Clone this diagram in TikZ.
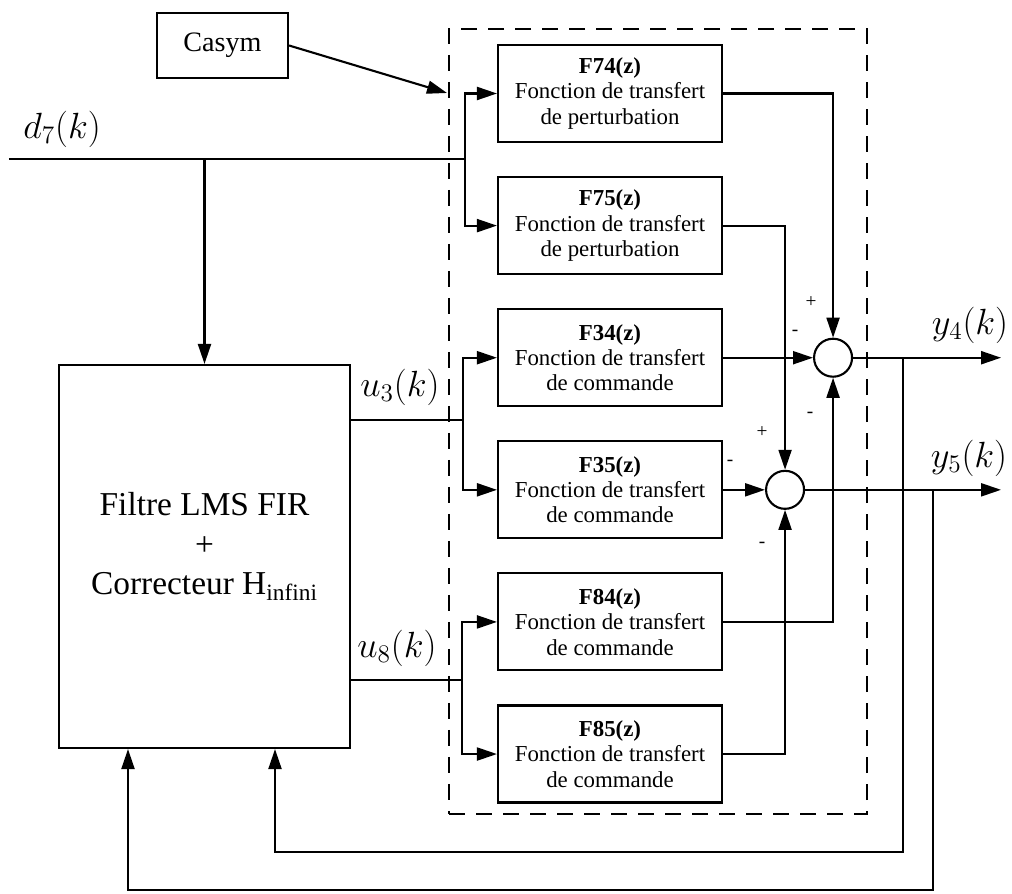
\documentclass[tikz,border=0pt]{standalone}
\usepackage{fontspec}
\setmainfont{Liberation Serif}
\usepackage{amsmath}
\usepackage{tikz}
\usetikzlibrary{positioning,arrows.meta}

\begin{document}
\begin{tikzpicture}[
    line width=1.2pt,
    blk/.style={draw,minimum width=4.48cm,minimum height=1.94cm,align=center,font=\fontsize{13}{14.4}\selectfont,inner sep=2pt},
    sumnode/.style={draw,circle,minimum size=0.76cm,inner sep=0pt},
    arr/.style={-{Triangle[length=4mm,width=2.6mm]}},
    dashbox/.style={draw,dash pattern=on 3.2mm off 2.2mm,line width=1pt},
    sig/.style={font=\fontsize{11}{11}\selectfont,inner sep=0pt},
    lbl/.style={font=\fontsize{22}{26}\selectfont,inner sep=0pt}
  ]
    \useasboundingbox (0,0) rectangle (20.24,-17.88);
    % frame round the plant
    \node[dashbox,minimum width=8.36cm,minimum height=15.7cm] (plant) at (13.16,-8.43) {};
    % transfer functions
    \node[blk] (f74) at (12.2,-1.87) {\textbf{F74(z)}\\Fonction de transfert\\de perturbation};
    \node[blk,below=0.66cm of f74] (f75) {\textbf{F75(z)}\\Fonction de transfert\\de perturbation};
    \node[blk,below=0.66cm of f75] (f34) {\textbf{F34(z)}\\Fonction de transfert\\de commande};
    \node[blk,below=0.66cm of f34] (f35) {\textbf{F35(z)}\\Fonction de transfert\\de commande};
    \node[blk,below=0.66cm of f35] (f84) {\textbf{F84(z)}\\Fonction de transfert\\de commande};
    \node[blk,below=0.66cm of f84] (f85) {\textbf{F85(z)}\\Fonction de transfert\\de commande};
    % controller and disturbance source
    \node[draw,minimum width=5.82cm,minimum height=7.66cm] (filtre) at (4.09,-11.13) {};
    \node[align=center,font=\fontsize{19}{22.7}\selectfont] (filtretxt) at ([yshift=0.2cm]filtre.center)
      {Filtre LMS FIR\\+\\Correcteur H\textsubscript{infini}};
    \node[draw,minimum width=2.62cm,minimum height=1.3cm,font=\fontsize{16}{16}\selectfont] (casym) at (4.45,-0.91) {Casym};
    % summing junctions
    \node[sumnode,right=2.2cm of f34.east,anchor=center] (s1) {};
    \node[sumnode,right=1.24cm of f35.east,anchor=center] (s2) {};
    \node[sig] (s1p) at (16.22,-6.04) {+};
    \node[sig] (s1m) at (15.9,-6.66) {-};
    \node[sig] (s1n) at (16.2,-8.3) {-};
    \node[sig] (s2p) at (15.24,-8.64) {+};
    \node[sig] (s2m) at (14.6,-9.26) {-};
    \node[sig] (s2n) at (15.24,-10.9) {-};
    % signal labels
    \node[lbl] (d7) at (1.24,-2.58) {$d_7(k)$};
    \node[lbl] (u3) at (8.0,-7.74) {$u_3(k)$};
    \node[lbl] (u8) at (7.94,-12.96) {$u_8(k)$};
    \node[lbl] (y4) at (19.4,-6.5) {$y_4(k)$};
    \node[lbl] (y5) at (19.38,-9.16) {$y_5(k)$};
    % branch points and free ends
    \coordinate (d7in) at (0.18,-3.18);
    \coordinate (d7br) at (9.3,-3.18);
    \coordinate (castip) at (8.94,-1.86);
    \coordinate (u3br) at (9.26,-8.4);
    \coordinate (u8br) at (9.24,-13.6);
    \coordinate (y4o) at ([xshift=3.36cm]s1.center);
    \coordinate (y5o) at ([xshift=4.32cm]s2.center);
    \coordinate (fb4) at ([xshift=1.4cm]s1.center);
    \coordinate (fb4b) at (fb4 |- 0,-17.04);
    \coordinate (fb5) at ([xshift=2.96cm]s2.center);
    \coordinate (fb5b) at (fb5 |- 0,-17.8);
    % inputs
    \draw[arr] (casym.east) -- (castip);
    \draw (d7in) -- (d7br);
    \draw[arr] (d7in -| filtre.north) -- (filtre.north);
    \draw[arr] (d7br) |- (f74.west);
    \draw[arr] (d7br) |- (f75.west);
    \draw (u3br -| filtre.east) -- (u3br);
    \draw[arr] (u3br) |- (f34.west);
    \draw[arr] (u3br) |- (f35.west);
    \draw (u8br -| filtre.east) -- (u8br);
    \draw[arr] (u8br) |- (f84.west);
    \draw[arr] (u8br) |- (f85.west);
    % into the sums
    \draw[arr] (f74.east) -| (s1.north);
    \draw[arr] (f34.east) -- (s1.west);
    \draw[arr] (f84.east) -| (s1.south);
    \draw[arr] (f75.east) -| (s2.north);
    \draw[arr] (f35.east) -- (s2.west);
    \draw[arr] (f85.east) -| (s2.south);
    % outputs and feedback
    \draw[arr] (s1.east) -- (y4o);
    \draw[arr] (s2.east) -- (y5o);
    \draw[arr] (fb4) -- (fb4b) -| ([xshift=1.41cm]filtre.south);
    \draw[arr] (fb5) -- (fb5b) -| ([xshift=-1.53cm]filtre.south);
  \end{tikzpicture}
\end{document}
